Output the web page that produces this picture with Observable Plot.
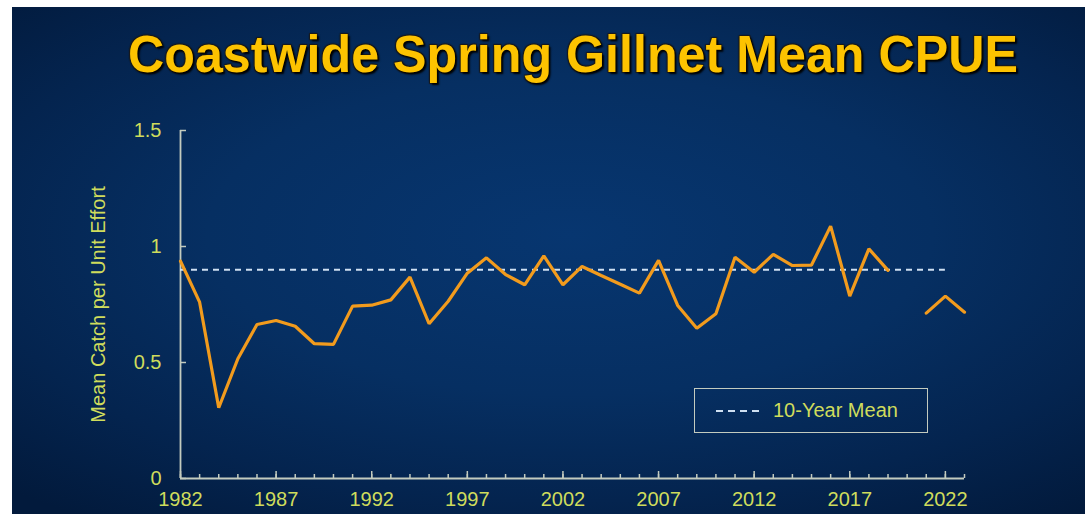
<!DOCTYPE html>
<html><head><meta charset="utf-8">
<script src="https://cdn.jsdelivr.net/npm/d3@7"></script>
<script src="https://cdn.jsdelivr.net/npm/@observablehq/plot@0.6"></script>
<style>
html,body{margin:0;padding:0;background:#fff;}
#wrap{position:relative;width:1090px;height:514px;overflow:hidden;background:#fff;font-family:"Liberation Sans",Arial,sans-serif;}
#panel{position:absolute;left:12px;top:7px;width:1073px;height:507px;
  background:radial-gradient(ellipse 75% 70% at 52% 45%, #073670 0%, #062f62 45%, #04244f 75%, #021a3c 100%);}
#title{position:absolute;left:0;top:0;width:1090px;height:100px;}
#title span{position:absolute;left:128px;top:28px;font-weight:bold;font-size:52px;line-height:52px;color:#fdc300;white-space:nowrap;transform-origin:0 0;
  text-shadow:2px 2px 2px #000, -1px -1px 1px #1a1a1a, 1px -1px 1px #1a1a1a, -1px 1px 1px #1a1a1a;}
#chart{position:absolute;left:0;top:100px;}
#legend{position:absolute;left:694px;top:388px;width:234px;height:45px;border:1.5px solid #c3cbbf;box-sizing:border-box;}
#legend svg{position:absolute;left:20px;top:19px;}
#legend .lt{position:absolute;left:78px;top:10px;font-size:20px;line-height:22px;color:#cfdc5c;white-space:nowrap;}
</style></head>
<body>
<div id="wrap">
  <div id="panel"></div>
  <div id="title"><span id="tt">Coastwide Spring Gillnet Mean CPUE</span></div>
  <div id="chart"></div>
  <div id="legend"><svg width="46" height="6"><line x1="1" y1="3" x2="45" y2="3" stroke="#cfe0f2" stroke-width="2" stroke-dasharray="7,5"/></svg><div class="lt">10-Year Mean</div></div>
</div>
<script>
const years = [1982,1983,1984,1985,1986,1987,1988,1989,1990,1991,1992,1993,1994,1995,1996,1997,1998,1999,2000,2001,2002,2003,2004,2005,2006,2007,2008,2009,2010,2011,2012,2013,2014,2015,2016,2017,2018,2019,2020,2021,2022,2023];
const cpue = [0.937,0.760,0.305,0.516,0.664,0.681,0.656,0.581,0.578,0.743,0.747,0.770,0.868,0.667,0.764,0.885,0.951,0.879,0.835,0.960,0.835,0.914,0.875,0.837,0.799,0.940,0.746,0.648,0.710,0.954,0.889,0.966,0.918,0.920,1.088,0.786,0.990,0.897,null,0.713,0.786,0.717];
const labelYears = [1982,1987,1992,1997,2002,2007,2012,2017,2022];
const yTicks = [0,0.5,1,1.5];
const meanValue = 0.90;
const meanSpan = [1982,2022];
const yLabel = "Mean Catch per Unit Effort";

const axisColor = "#c3cbbf";
const labelColor = "#cfdc5c";

const chart = Plot.plot({
  width:1090, height:414,
  marginLeft:180, marginRight:126, marginTop:30, marginBottom:36,
  style:{background:"transparent", color:labelColor, fontFamily:"'Liberation Sans', Arial, sans-serif", fontSize:"20px", overflow:"visible"},
  x:{domain:[1982,2023]},
  y:{domain:[0,1.5]},
  marks:[
    Plot.axisX(years, {tickSize:4, dy:-4, tickFormat:()=>"", stroke:axisColor, strokeWidth:1.5, label:null}),
    Plot.axisX(labelYears, {tickSize:7, dy:-7, tickFormat:()=>"", stroke:axisColor, strokeWidth:1.5, label:null}),
    Plot.axisX(labelYears, {tickSize:0, tickPadding:13, tickFormat:d=>String(d), fill:labelColor, fontSize:20, label:null}),
    Plot.axisY(yTicks, {tickSize:6, dx:6, tickFormat:()=>"", stroke:axisColor, strokeWidth:1.5, label:null}),
    Plot.axisY(yTicks, {tickSize:0, tickPadding:19, tickFormat:d=>String(d), fill:labelColor, fontSize:20, label:null}),
    Plot.ruleY([0], {stroke:axisColor, strokeWidth:1.8}),
    Plot.ruleX([1982], {stroke:axisColor, strokeWidth:1.8}),
    Plot.ruleY([meanValue], {x1:meanSpan[0], x2:meanSpan[1], stroke:"#cfe0f2", strokeWidth:2, strokeDasharray:"6,5"}),
    Plot.line(years, {x:d=>d, y:cpue, stroke:"#f29b1d", strokeWidth:3.2, strokeLinejoin:"miter"}),
    Plot.text([yLabel], {frameAnchor:"left", dx:-82, rotate:-90, fill:labelColor, fontSize:20, textAnchor:"middle", lineAnchor:"middle"})
  ]
});
document.getElementById("chart").appendChild(chart);

const tt = document.getElementById("tt");
const w = tt.getBoundingClientRect().width;
tt.style.transform = `scaleX(${890 / w})`;
</script>
</body></html>
